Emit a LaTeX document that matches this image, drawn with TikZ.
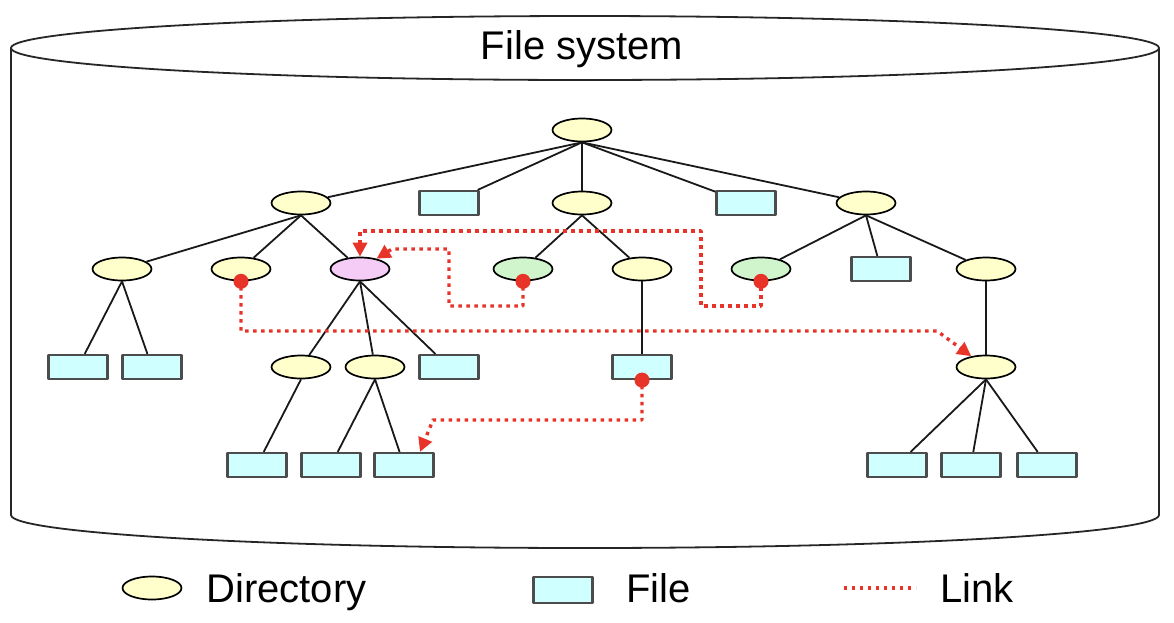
\documentclass[tikz,border=0pt]{standalone}
\usepackage{fontspec}
\setmainfont{Liberation Sans}
\usepackage{tikz}
\usetikzlibrary{arrows.meta,shapes.geometric}

\definecolor{dirfill}{RGB}{255,255,204}
\definecolor{filefill}{RGB}{208,255,255}
\definecolor{pinkfill}{RGB}{245,204,245}
\definecolor{greenfill}{RGB}{208,245,204}
\definecolor{linkred}{RGB}{232,52,40}

\begin{document}
\begin{tikzpicture}[
    x = 0.5pt, % one unit per pixel
    y = 0.5pt,
    line join = round,
    tree/.style = {draw = black!90, line width = 0.9pt} % parent to child
    ]

    \tikzset{
    dirnode/.style = {ellipse, draw = black, line width = 0.85pt, fill = dirfill,
        minimum width = 29.5pt, minimum height = 11.5pt, inner sep = 0pt},
    filenode/.style = {rectangle, draw = black!70, line width = 1.1pt, fill = filefill,
        minimum width = 29.5pt, minimum height = 12pt, inner sep = 0pt},
    linkline/.style = {draw = linkred, line width = 1.7pt, dash pattern = on 1.7pt off 2.3pt},
    link/.style = {linkline, {Circle[length=7.5pt]}-{Triangle[length=7pt,width=7pt]}},
    lbl/.style = {inner sep = 0pt, font = \fontsize{20}{24}\selectfont},
    cyl/.style = {draw = black!85, line width = 0.9pt}
    }

    \useasboundingbox (0,0) rectangle (1174,-622);

    % the disk
    \draw[cyl] (11,-48) -- (11,-515) arc[start angle = 180, end angle = 360, x radius = 287pt, y radius = 16.5pt] -- (1159,-48);
    \draw[cyl] (585,-48) ellipse[x radius = 287pt, y radius = 16pt];
    \node[lbl, anchor = base] (title) at (582,-59) {File system};

    \node[dirnode] (d0) at (582,-130) {};

    \node[dirnode] (d1) at (301,-203) {};
    \node[filenode] (f1) at (449,-203) {};
    \node[dirnode] (d2) at (582,-203) {};
    \node[filenode] (f2) at (746,-203) {};
    \node[dirnode] (d3) at (866,-203) {};

    \node[dirnode] (d4) at (122,-269) {};
    \node[dirnode] (d5) at (241,-269) {};
    \node[dirnode, fill = pinkfill] (p1) at (360,-269) {};
    \node[dirnode, fill = greenfill] (g1) at (523,-269) {};
    \node[dirnode] (d6) at (642,-269) {};
    \node[dirnode, fill = greenfill] (g2) at (761,-269) {};
    \node[filenode] (f3) at (881,-269) {};
    \node[dirnode] (d7) at (986,-269) {};

    \node[filenode] (f4) at (78,-367) {};
    \node[filenode] (f5) at (152,-367) {};
    \node[dirnode] (d8) at (301,-367) {};
    \node[dirnode] (d9) at (375,-367) {};
    \node[filenode] (f6) at (449,-367) {};
    \node[filenode] (f7) at (642,-367) {};
    \node[dirnode] (d10) at (986,-367) {};

    \node[filenode] (f8) at (257,-465) {};
    \node[filenode] (f9) at (331,-465) {};
    \node[filenode] (f10) at (404,-465) {};
    \node[filenode] (f11) at (897,-465) {};
    \node[filenode] (f12) at (971,-465) {};
    \node[filenode] (f13) at (1047,-465) {};

    \path[tree] (d0.south) edge (d1) edge (f1) edge (d2) edge (f2) edge (d3);
    \path[tree] (d1.south) edge (d4) edge (d5) edge (p1);
    \path[tree] (d2.south) edge (g1) edge (d6);
    \path[tree] (d3.south) edge (g2) edge (f3) edge (d7);
    \path[tree] (d4.south) edge (f4) edge (f5);
    \path[tree] (p1.south) edge (d8) edge (d9) edge (f6);
    \path[tree] (d6.south) edge (f7);
    \path[tree] (d7.south) edge (d10);
    \path[tree] (d8.south) edge (f8);
    \path[tree] (d9.south) edge (f9) edge (f10);
    \path[tree] (d10.south) edge (f11) edge (f12) edge (f13);

    % links
    \draw[link] ([yshift=3.75pt]d5.south) |- (937,-331) -- (d10);
    \draw[link] ([yshift=3.75pt]g1.south) |- (449,-306) |- (392,-249) -- (p1);
    \draw[link] ([yshift=3.75pt]g2.south) |- (701,-306) |- (360,-231) -- (p1.north);
    \draw[link] ([yshift=3.75pt]f7.south) |- (433,-420) -- ([xshift=8pt]f10.north);

    % key
    \node[dirnode] (kdir) at (152,-588) {};
    \node[lbl, anchor = base west] (kdirtext) at (206,-602) {Directory};
    \node[filenode, minimum height = 13pt] (kfile) at (563,-590) {};
    \node[lbl, anchor = base west] (kfiletext) at (626,-602) {File};
    \coordinate (ka) at (844,-588);
    \coordinate (kb) at (916,-588);
    \draw[linkline] (ka) -- (kb);
    \node[lbl, anchor = base west] (klinktext) at (940,-602) {Link};
\end{tikzpicture}
\end{document}
